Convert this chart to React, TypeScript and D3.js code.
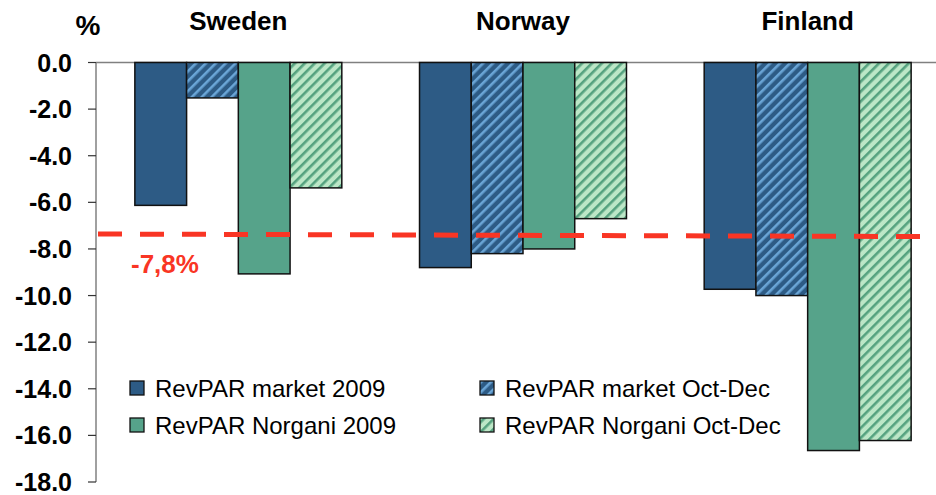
import React from "react";
import * as d3 from "d3";

const countries = ["Sweden", "Norway", "Finland"];
const seriesNames = [
  "RevPAR market 2009",
  "RevPAR market Oct-Dec",
  "RevPAR Norgani 2009",
  "RevPAR Norgani Oct-Dec",
];
const marketYear = [-6.13, -8.8, -9.73];
const marketQ4 = [-1.52, -8.2, -10.0];
const norganiYear = [-9.07, -8.0, -16.65];
const norganiQ4 = [-5.38, -6.7, -16.22];
const yTicks = [0, -2, -4, -6, -8, -10, -12, -14, -16, -18];
const refLine = [-7.36, -7.47]; // dashed reference line (left, right)
const refLabel = "-7,8%";

const W = 936;
const H = 495;
const FONT = "'Liberation Sans', Arial, Helvetica, sans-serif";

const fills = ["#2d5b85", "url(#hatchBlue)", "#56a38a", "url(#hatchGreen)"];

export default function App() {
  const x0 = d3.scaleBand<string>().domain(countries).range([96, 950]).paddingInner(0).paddingOuter(0);
  const x1 = d3
    .scaleBand<string>()
    .domain(seriesNames)
    .range([0, x0.bandwidth() * 0.727]);
  const groupOffset = (x0.bandwidth() - x1.range()[1]) / 2;
  const y = d3.scaleLinear().domain([0, -18]).range([62.5, 482]);

  const series = [marketYear, marketQ4, norganiYear, norganiQ4];
  const legendPos = [
    [130, 381],
    [480, 381],
    [130, 418],
    [480, 418],
  ];

  return (
    <svg width={W} height={H} style={{ position: "absolute", left: 0, top: 0, background: "#fff" }}>
      <defs>
        <pattern id="hatchBlue" patternUnits="userSpaceOnUse" width="7" height="7" patternTransform="rotate(45)">
          <rect width="7" height="7" fill="#2d5b85" />
          <rect width="2.6" height="7" fill="#6aa5d6" />
        </pattern>
        <pattern id="hatchGreen" patternUnits="userSpaceOnUse" width="7" height="7" patternTransform="rotate(45)">
          <rect width="7" height="7" fill="#bce7c7" />
          <rect width="2.6" height="7" fill="#55a27f" />
        </pattern>
      </defs>

      {/* zero line */}
      <line x1={96} x2={936} y1={y(0)} y2={y(0)} stroke="#808080" strokeWidth={1.5} />

      {/* bars */}
      {countries.map((c, ci) =>
        series.map((s, si) => {
          const v = s[ci];
          const xx = (x0(c) as number) + groupOffset + (x1(seriesNames[si]) as number);
          return (
            <rect
              key={c + si}
              x={xx}
              y={y(0)}
              width={x1.bandwidth()}
              height={y(v) - y(0)}
              fill={fills[si]}
              stroke="#111"
              strokeWidth={1.5}
            />
          );
        })
      )}

      {/* y axis */}
      <line x1={96} x2={96} y1={y(0)} y2={y(-18)} stroke="#808080" strokeWidth={1.5} />
      {yTicks.map((t) => (
        <g key={t}>
          <line x1={88} x2={96} y1={y(t)} y2={y(t)} stroke="#333" strokeWidth={1.2} />
          <text
            x={72}
            y={y(t) + 9}
            textAnchor="end"
            fontFamily={FONT}
            fontWeight="bold"
            fontSize={25}
            fill="#000"
          >
            {t === 0 ? "0.0" : d3.format(".1f")(t).replace("−", "-")}
          </text>
        </g>
      ))}

      {/* % label */}
      <text x={88} y={35} textAnchor="middle" fontFamily={FONT} fontWeight="bold" fontSize={28}>
        %
      </text>

      {/* country labels */}
      {countries.map((c) => (
        <text
          key={c}
          x={(x0(c) as number) + x0.bandwidth() / 2}
          y={30}
          textAnchor="middle"
          fontFamily={FONT}
          fontWeight="bold"
          fontSize={26}
        >
          {c}
        </text>
      ))}

      {/* reference dashed line */}
      <line
        x1={98}
        x2={936}
        y1={y(refLine[0])}
        y2={y(refLine[1])}
        stroke="#f93524"
        strokeWidth={5}
        strokeDasharray="24 18"
      />
      <text x={131} y={273} fontFamily={FONT} fontWeight="bold" fontSize={26} fill="#f93524">
        {refLabel}
      </text>

      {/* legend */}
      {seriesNames.map((n, i) => (
        <g key={n}>
          <rect
            x={legendPos[i][0]}
            y={legendPos[i][1]}
            width={14}
            height={14}
            fill={fills[i]}
            stroke="#111"
            strokeWidth={1.3}
          />
          <text x={legendPos[i][0] + 25} y={legendPos[i][1] + 16} fontFamily={FONT} fontSize={24} fill="#000">
            {n}
          </text>
        </g>
      ))}
    </svg>
  );
}
